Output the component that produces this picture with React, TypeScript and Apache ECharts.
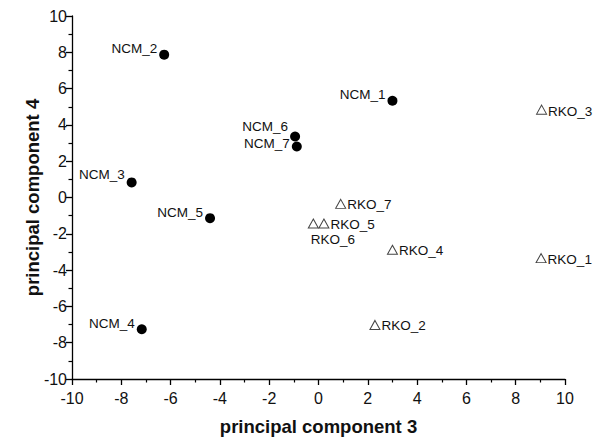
import React, { useEffect, useRef } from "react";
import * as echarts from "echarts";

const ncmNames = ["NCM_1", "NCM_2", "NCM_3", "NCM_4", "NCM_5", "NCM_6", "NCM_7"];
const ncmX = [3.0, -6.26, -7.58, -7.17, -4.4, -0.95, -0.88];
const ncmY = [5.33, 7.87, 0.83, -7.26, -1.14, 3.36, 2.81];

const rkoNames = ["RKO_1", "RKO_2", "RKO_3", "RKO_4", "RKO_5", "RKO_6", "RKO_7"];
const rkoX = [9.03, 2.29, 9.05, 3.0, 0.22, -0.21, 0.9];
const rkoY = [-3.34, -7.02, 4.84, -2.88, -1.43, -1.43, -0.35];

const xTitle = "principal component 3";
const yTitle = "principal component 4";

// label placement offsets (style only)
const ncmLabelOffset: [number, number][] = [
  [0, -6], [0, -6], [0, -8], [0, -6], [0, -6], [0, -10], [0, -3],
];
const rkoLabelOffset: [number, number][] = [
  [0, 1], [0, 1], [0, 2], [0, 1], [0, 1], [-9, 16], [0, 1],
];

const FONT = "'Liberation Sans', Arial, Helvetica, sans-serif";

export default function App() {
  const ref = useRef<HTMLDivElement>(null);
  useEffect(() => {
    if (!ref.current) return;
    const chart = echarts.init(ref.current, undefined, { renderer: "svg" });
    const ncmData = ncmNames.map((n, i) => ({
      name: n,
      value: [ncmX[i], ncmY[i]],
      label: { offset: ncmLabelOffset[i] },
    }));
    const rkoData = rkoNames.map((n, i) => ({
      name: n,
      value: [rkoX[i], rkoY[i]],
      label: { offset: rkoLabelOffset[i] },
    }));
    const axisCommon = {
      min: -10,
      max: 10,
      interval: 2,
      axisLine: { show: true, onZero: false, lineStyle: { color: "#000", width: 1.3 } },
      axisTick: { show: true, inside: false, length: 6, lineStyle: { color: "#000", width: 1.3 } },
      minorTick: { show: true, splitNumber: 2, length: 3.5, lineStyle: { color: "#000", width: 1.2 } },
      splitLine: { show: false },
      nameLocation: "middle" as const,
      nameMoveOverlap: false,
      nameTextStyle: { color: "#111", fontSize: 18.5, fontWeight: "bold" as const, fontFamily: FONT },
    };
    chart.setOption({
      animation: false,
      backgroundColor: "#fff",
      grid: { left: 72, right: 29, top: 16, bottom: 59, containLabel: false, outerBoundsMode: "none" },
      xAxis: {
        ...axisCommon,
        type: "value",
        name: xTitle,
        nameGap: 38,
        axisLabel: { color: "#111", fontSize: 16, fontFamily: FONT, margin: 11 },
      },
      yAxis: {
        ...axisCommon,
        type: "value",
        name: yTitle,
        nameGap: 30,
        axisLabel: { color: "#111", fontSize: 16, fontFamily: FONT, margin: 5 },
      },
      series: [
        {
          type: "scatter",
          data: ncmData,
          symbol: "circle",
          symbolSize: 10,
          itemStyle: { color: "#000", opacity: 1 },
          label: {
            show: true,
            position: "left",
            distance: 2,
            formatter: "{b}",
            color: "#111",
            fontSize: 13.5,
            fontFamily: FONT,
          },
        },
        {
          type: "scatter",
          data: rkoData,
          symbol: "triangle",
          symbolSize: [10, 9],
          itemStyle: { color: "rgba(255,255,255,0)", borderColor: "#444", borderWidth: 1, opacity: 1 },
          label: {
            show: true,
            position: "right",
            distance: 1,
            formatter: "{b}",
            color: "#111",
            fontSize: 13.5,
            fontFamily: FONT,
          },
        },
      ],
    });
    return () => chart.dispose();
  }, []);
  return <div ref={ref} style={{ width: 594, height: 438, position: "absolute", left: 0, top: 0 }} />;
}
